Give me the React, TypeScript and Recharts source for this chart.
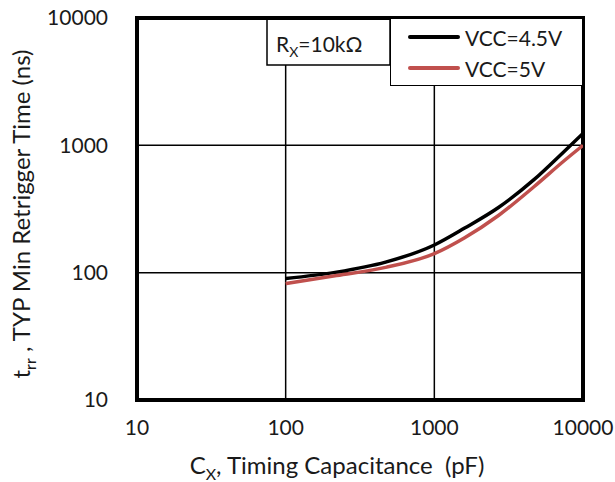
import React from 'react';
import {
  LineChart,
  Line,
  XAxis,
  YAxis,
  CartesianGrid,
  Legend,
  ReferenceArea,
  Customized,
} from 'recharts';

// Cx in pF
const capacitance = [100, 220, 470, 1000, 1600, 2700, 4700, 7500, 10000];
// min retrigger time, ns
const vcc45 = [90, 101, 121, 165, 224, 325, 540, 900, 1240];
const vcc5 = [82, 95, 110, 141, 188, 281, 475, 760, 1000];

const xTicks = [10, 100, 1000, 10000];
const yTicks = [10, 100, 1000, 10000];

const seriesInfo = [
  { key: 'vcc45', name: 'VCC=4.5V', color: '#000000' },
  { key: 'vcc5', name: 'VCC=5V', color: '#C0504D' },
];

const data = capacitance.map((c, i) => ({ cx: c, vcc45: vcc45[i], vcc5: vcc5[i] }));

const FONT = 'Lato, "Noto Sans", sans-serif';
const TEXT = '#1a1a1a';

const renderLegend = () => (
  <div
    style={{
      position: 'relative',
      width: 191,
      height: 66,
      border: '1.5px solid #000',
      background: '#fff',
      fontFamily: FONT,
      fontSize: 21,
      color: TEXT,
      boxSizing: 'content-box',
    }}
  >
    {seriesInfo.map((s, i) => (
      <div
        key={s.key}
        style={{ position: 'absolute', left: 17, top: i === 0 ? 5 : 36, display: 'flex', alignItems: 'center', height: 26 }}
      >
        <div style={{ width: 52, height: 4, background: s.color, borderRadius: 2 }} />
        <span style={{ marginLeft: 5, whiteSpace: 'nowrap' }}>{s.name}</span>
      </div>
    ))}
  </div>
);

const Annotation = () => (
  <g>
    <rect x={267} y={18} width={123} height={47} fill="#fff" stroke="#000" strokeWidth={1.5} />
    <text x={276} y={52} fontFamily={FONT} fontSize={21} fill={TEXT}>
      R<tspan dy={5} fontSize={14}>X</tspan>
      <tspan dy={-5}>=10kΩ</tspan>
    </text>
    <text
      x={337}
      y={474}
      textAnchor="middle"
      fontFamily={FONT}
      fontSize={24}
      fill={TEXT}
    >
      C<tspan dy={6} fontSize={16}>X</tspan>
      <tspan dy={-6}>{', Timing Capacitance \u00A0(pF)'}</tspan>
    </text>
    <text
      transform="translate(30,214) rotate(-90)"
      textAnchor="middle"
      fontFamily={FONT}
      fontSize={24}
      fill={TEXT}
    >
      t<tspan dy={6} fontSize={16}>rr</tspan>
      <tspan dy={-6}>{'\u00A0, TYP Min Retrigger Time (ns)'}</tspan>
    </text>
  </g>
);

export default function App() {
  return (
    <div style={{ position: 'absolute', left: 0, top: 0, background: '#fff' }}>
      <LineChart
        width={615}
        height={482}
        data={data}
        margin={{ top: 18, right: 32, bottom: 0, left: 0 }}
      >
        <CartesianGrid stroke="#000" strokeWidth={1.5} />
        <XAxis
          dataKey="cx"
          type="number"
          scale="log"
          domain={[10, 10000]}
          ticks={xTicks}
          allowDataOverflow
          axisLine={false}
          tickLine={false}
          height={82}
          tickMargin={14}
          tick={{ fontFamily: FONT, fontSize: 21, fill: TEXT }}
        />
        <YAxis
          type="number"
          scale="log"
          domain={[10, 10000]}
          ticks={yTicks}
          allowDataOverflow
          axisLine={false}
          tickLine={false}
          width={137}
          tickMargin={23}
          tick={{ fontFamily: FONT, fontSize: 21, fill: TEXT }}
        />
        <ReferenceArea
          x1={10}
          x2={10000}
          y1={10}
          y2={10000}
          fill="none"
          stroke="#000"
          strokeWidth={4}
          ifOverflow="visible"
        />
        {seriesInfo.map((s) => (
          <Line
            key={s.key}
            type="monotone"
            dataKey={s.key}
            name={s.name}
            stroke={s.color}
            strokeWidth={3.5}
            dot={false}
            isAnimationActive={false}
          />
        ))}
        <Customized component={Annotation} />
        <Legend
          layout="vertical"
          align="center"
          verticalAlign="middle"
          content={renderLegend}
          wrapperStyle={{ left: 390, top: 18, width: 'auto', height: 'auto' }}
        />
      </LineChart>
    </div>
  );
}
